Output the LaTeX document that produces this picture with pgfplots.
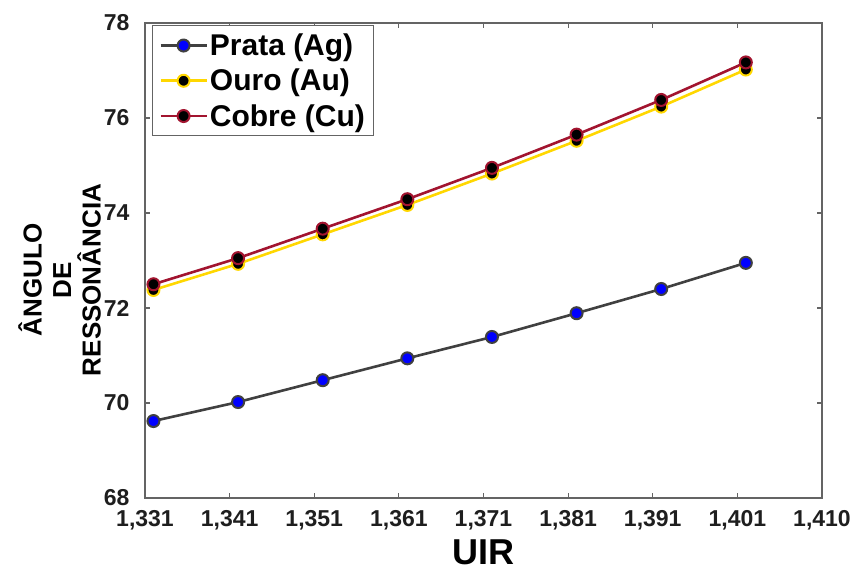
\documentclass[border=0pt]{standalone}
\usepackage{pgfplots}
\pgfplotsset{compat=1.18}
\usepackage{fontspec}
\setmainfont{Liberation Sans}
\definecolor{agline}{RGB}{64,64,64}
\definecolor{agfill}{RGB}{0,0,255}
\definecolor{auline}{RGB}{255,215,0}
\definecolor{culine}{RGB}{162,20,47}
\definecolor{axisgray}{RGB}{100,100,100}
\definecolor{labelcol}{RGB}{30,30,30}
\begin{document}
\begin{tikzpicture}
\begin{axis}[
  scale only axis, width=677pt, height=475pt,
  xmin=1.331, xmax=1.411, ymin=68, ymax=78,
  xtick={1.331,1.341,1.351,1.361,1.371,1.381,1.391,1.401,1.411},
  xticklabels={{1,331},{1,341},{1,351},{1,361},{1,371},{1,381},{1,391},{1,401},{1,410}},
  ytick={68,70,72,74,76,78},
  tick align=inside, major tick length=5pt,
  axis line style={color=axisgray, line width=1.3pt},
  tick style={color=axisgray, line width=1.1pt},
  tick label style={font=\fontsize{23}{25}\selectfont\bfseries, text=labelcol},
  yticklabel style={xshift=-12pt},
  xticklabel style={yshift=-9pt},
  /pgf/number format/assume math mode=true,
  xlabel={UIR},
  xlabel style={font=\fontsize{36}{38}\selectfont\bfseries, at={(axis description cs:0.5,-0.114)}, anchor=center},
  ylabel={ÂNGULO\\DE\\RESSONÂNCIA},
  ylabel style={font=\fontsize{26}{29.5}\selectfont\bfseries, align=center, at={(axis description cs:-0.126,0.459)}, anchor=center},
  legend style={at={(axis description cs:0.01,0.995)}, anchor=north west, draw=axisgray, line width=1.1pt,
    font=\fontsize{30}{32}\selectfont\bfseries, row sep=8pt, inner xsep=7pt, inner ysep=6pt},
  legend cell align=left,
  legend image code/.code={\draw[mark repeat=2,mark phase=2,#1] plot coordinates {(0pt,0pt)(23pt,0pt)(46pt,0pt)};},
  every axis plot/.append style={line width=2.6pt},
]
\addplot[color=agline, mark=*, mark size=6pt, mark options={fill=agfill, draw=agline, line width=2pt}]
  coordinates {(1.332,69.62)(1.342,70.02)(1.352,70.48)(1.362,70.94)(1.372,71.39)(1.382,71.89)(1.392,72.40)(1.402,72.95)};
\addlegendentry{Prata (Ag)}
\addplot[color=auline, mark=*, mark size=6pt, mark options={fill=black, draw=auline, line width=2pt}]
  coordinates {(1.332,72.38)(1.342,72.93)(1.352,73.55)(1.362,74.17)(1.372,74.83)(1.382,75.52)(1.392,76.24)(1.402,77.02)};
\addlegendentry{Ouro (Au)}
\addplot[color=culine, mark=*, mark size=6pt, mark options={fill=black, draw=culine, line width=2pt}]
  coordinates {(1.332,72.50)(1.342,73.05)(1.352,73.67)(1.362,74.29)(1.372,74.95)(1.382,75.65)(1.392,76.38)(1.402,77.17)};
\addlegendentry{Cobre (Cu)}
\end{axis}
\pgfresetboundingbox
\path[use as bounding box] (-145pt,-74pt) rectangle (706pt,498pt);
\end{tikzpicture}
\end{document}
